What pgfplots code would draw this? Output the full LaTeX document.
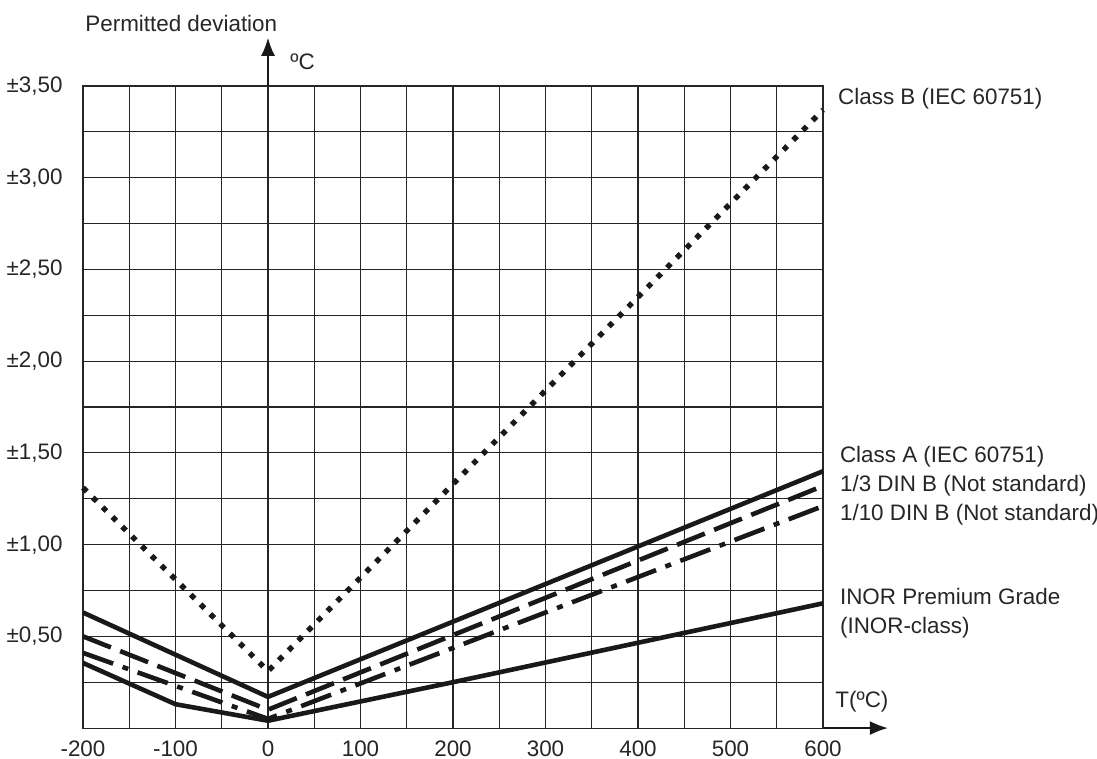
\documentclass[border=0pt]{standalone}
\usepackage{fontspec}
\setmainfont{Liberation Sans}
\usepackage{pgfplots}
\pgfplotsset{compat=1.18}
\usetikzlibrary{arrows.meta}

\begin{document}
\begin{tikzpicture}[font=\fontsize{11.2}{13}\selectfont]
\begin{axis}[%
width=370pt,
height=321pt,
scale only axis,
clip=false,
xmin=-200,
xmax=600,
ymin=0,
ymax=3.5,
xtick={-200,-100,...,600},
xticklabels={-200,-100,0,100,200,300,400,500,600},
minor xtick={-150,-50,...,550},
ytick={0,0.5,...,3.5},
yticklabels={{},{±0,50},{±1,00},{±1,50},{±2,00},{±2,50},{±3,00},{±3,50}},
minor ytick={0.25,0.75,...,3.25},
grid=both,
major grid style={black!85,line width=0.55pt},
minor grid style={black!85,line width=0.55pt},
tick style={draw=none},
axis line style={black!85,line width=0.55pt},
xticklabel style={inner sep=0pt,anchor=north,yshift=-6pt},
yticklabel style={inner sep=0pt,anchor=east,xshift=-10pt},
every tick label/.append style={font=\fontsize{11.2}{13}\selectfont,text=black!85},
]
% Class B (IEC 60751)
\addplot [black!90,line width=2.7pt,dash pattern=on 2.7pt off 4.2pt]
 table[row sep=crcr]{%
-200	1.31\\
0	0.31\\
600	3.37\\
};
% Class A (IEC 60751)
\addplot [black!90,line width=2.3pt]
 table[row sep=crcr]{%
-200	0.63\\
0	0.17\\
600	1.40\\
};
% 1/3 DIN B
\addplot [black!90,line width=2.3pt,dash pattern=on 15pt off 5pt]
 table[row sep=crcr]{%
-200	0.50\\
0	0.10\\
600	1.32\\
};
% 1/10 DIN B
\addplot [black!90,line width=2.3pt,dash pattern=on 16pt off 5pt on 3pt off 5pt]
 table[row sep=crcr]{%
-200	0.41\\
0	0.05\\
600	1.21\\
};
% INOR Premium Grade
\addplot [black!90,line width=2.3pt]
 table[row sep=crcr]{%
-200	0.355\\
-100	0.13\\
0	0.04\\
200	0.25\\
400	0.465\\
600	0.68\\
};

\draw[black!90,line width=0.6pt,-{Latex[length=9pt,width=7pt]}] (axis cs:0,3.5) -- (axis cs:0,3.762);
\draw[black!90,line width=0.6pt,-{Latex[length=9pt,width=7pt]}] (axis cs:600,0) -- (axis cs:670,0);

\begin{scope}[every node/.style={anchor=base west,inner sep=0pt,text=black!85}]
\node at (axis cs:-197.8,3.795) {Permitted deviation};
\node at (axis cs:23.8,3.588) {ºC};
\node at (axis cs:613,0.1145) {T(ºC)};
\node at (axis cs:616,3.397) {Class B (IEC 60751)};
\node at (axis cs:618,1.450) {Class A (IEC 60751)};
\node at (axis cs:618,1.287) {1/3 DIN B (Not standard)};
\node at (axis cs:618,1.134) {1/10 DIN B (Not standard)};
\node at (axis cs:618,0.671) {INOR Premium Grade};
\node at (axis cs:618,0.518) {(INOR-class)};
\end{scope}

\coordinate (BL) at (axis cs:-289.7,-0.1636);
\coordinate (TR) at (axis cs:896.2,3.969);
\end{axis}
\pgfresetboundingbox
\path[use as bounding box] (BL) rectangle (TR);
\end{tikzpicture}
\end{document}
